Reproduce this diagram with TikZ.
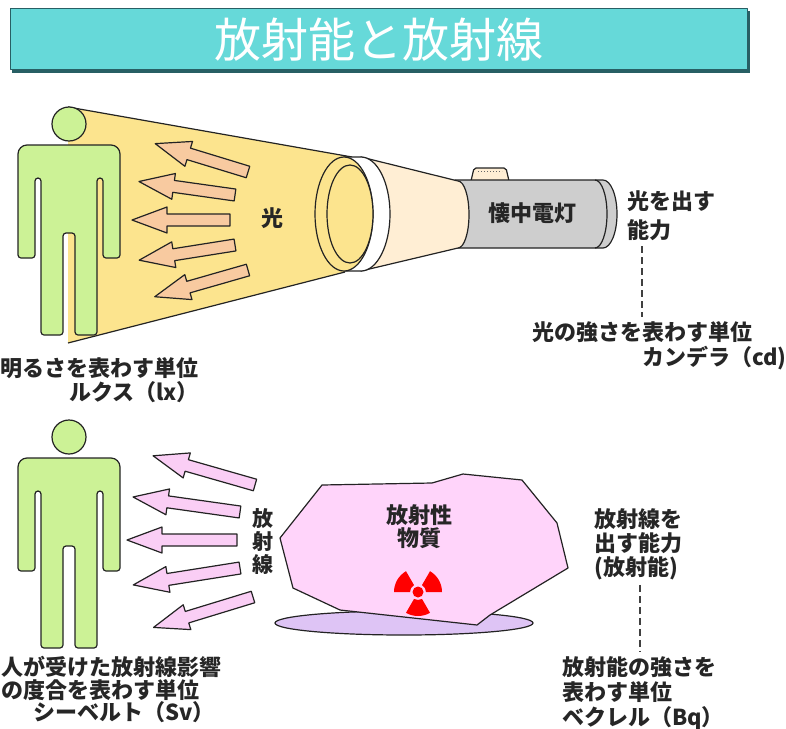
\documentclass[tikz,border=0pt]{standalone}
\usepackage{fontspec}
\newfontfamily\jpfont{Noto Sans CJK JP}

\definecolor{titlefill}{RGB}{102,217,217}
\definecolor{titleedge}{RGB}{40,95,100}
\definecolor{inkline}{RGB}{35,35,35}
\definecolor{skin}{RGB}{204,242,150}
\definecolor{conefill}{RGB}{252,228,142}
\definecolor{raypeach}{RGB}{248,202,160}
\definecolor{cream}{RGB}{255,238,212}
\definecolor{bodygray}{RGB}{206,206,206}
\definecolor{rockpink}{RGB}{255,212,250}
\definecolor{raypink}{RGB}{250,206,245}
\definecolor{lavender}{RGB}{222,196,245}

\begin{document}
\begin{tikzpicture}[x=1pt,y=-1pt,line join=round,
    outline/.style={draw=inkline,line width=1.2pt},
    jptext/.style={font=\jpfont\bfseries\fontsize{22}{25}\selectfont,inner sep=0pt,text=black!85},
    leader/.style={draw=black!75,line width=1.5pt,dash pattern=on 7pt off 4pt},
    pics/person/.style={code={
        \draw[outline,fill=skin] (0,0) circle[radius=17];
        \draw[outline,fill=skin,rounded corners=3pt] (-51,134) [rounded corners=9pt] -- (-51,21) -- (51,21)
            [rounded corners=3pt] -- (51,134) -- (34,134) -- (34,54) -- (28,54) -- (28,211) -- (6,211)
            -- (6,109) -- (-6,109) -- (-6,211) -- (-28,211) -- (-28,54) -- (-34,54) -- (-34,134) -- cycle;
    }},
    pics/ray/.style={code={
        \filldraw[outline,pic actions] (0,-6) -- (-#1+35,-6) -- (-#1+35,-13) -- (-#1,0)
            -- (-#1+35,13) -- (-#1+35,6) -- (0,6) -- cycle;
    }}]
    \useasboundingbox (0,0) rectangle (786,728);

    % --- Title bar ---
    \fill[titleedge] (12,11) rectangle (750,73);
    \draw[fill=titlefill,draw=titleedge] (10,8) rectangle (747,69);
    \node[font=\jpfont\fontsize{47}{47}\selectfont,text=white,inner sep=0pt] (title) at (379,40) {放射能と放射線};
    % ---

    % --- Light from the torch ---
    \fill[conefill] (68,107) -- (352,157) -- (345,272) -- (68,343) -- cycle;
    \draw[outline] (68,107) -- (352,157) (68,343) -- (345,272);
    \pic[fill=raypeach,rotate=-17] at (248,172) {ray=97};
    \pic[fill=raypeach,rotate=-8] at (235,195) {ray=97};
    \pic[fill=raypeach] at (230,220) {ray=98};
    \pic[fill=raypeach,rotate=9] at (235,245) {ray=97};
    \pic[fill=raypeach,rotate=16] at (248,270) {ray=97};
    \pic at (69,124) {person};
    \node[jptext] (light) at (272,218) {光};
    % ---

    % --- Torch: switch, body, reflector and lens ring ---
    \draw[outline,fill=cream,rounded corners=2pt] (471,181) -- (474,168) -- (506,168) -- (509,181);
    \draw[black!60,dotted,line width=1pt] (478,171) -- (502,171);
    \draw[outline,fill=bodygray] (455,180) -- (603,180) arc[start angle=-90,end angle=90,x radius=14,y radius=34] -- (455,248) -- cycle;
    \draw[outline] (595,180) arc[start angle=-90,end angle=90,x radius=12,y radius=34];
    \draw[outline,fill=cream] (361,157) -- (458,181) arc[start angle=-90,end angle=90,x radius=11,y radius=33.5] -- (361,271) -- cycle;
    \draw[outline,fill=white] (344,157) -- (361,157) arc[start angle=-90,end angle=90,x radius=29,y radius=57] -- (344,271) -- cycle;
    \draw[outline,fill=conefill] (344,214) ellipse[x radius=29,y radius=57];
    \draw[outline,fill=conefill] (350,214) ellipse[x radius=23,y radius=49];
    \node[jptext] (torch) at (532,213) {懐中電灯};
    % ---

    % --- Candela and lux labels ---
    \node[jptext,align=left,anchor=west,font=\jpfont\bfseries\fontsize{22}{29}\selectfont] (ability) at (627,216) {光を出す\\能力};
    \node[jptext] (cdunit) at (642,332) {光の強さを表わす単位};
    \node[jptext,anchor=west] (cdname) at (642,358) {カンデラ（cd)};
    \coordinate (cdtop) at ([shift={(15,5)}]ability.south west);
    \draw[leader,shorten >=4pt] (cdtop) -- (cdtop |- cdunit.north);
    \node[jptext,anchor=east] (luxunit) at (199,368) {明るさを表わす単位};
    \node[jptext,anchor=east] (luxname) at (199,392) {ルクス（lx）};
    % ---

    % --- Radiation from the source ---
    \pic[fill=raypink,rotate=-16] at (255,485) {ray=106};
    \pic[fill=raypink,rotate=-8] at (240,512) {ray=108};
    \pic[fill=raypink] at (237,540) {ray=110};
    \pic[fill=raypink,rotate=9] at (240,568) {ray=108};
    \pic[fill=raypink,rotate=17] at (253,597) {ray=104};
    \pic at (69,437) {person};
    \node[jptext,align=center,font=\jpfont\bfseries\fontsize{21}{23}\selectfont] (rays) at (263,541) {放\\射\\線};
    % ---

    % --- Radioactive lump and its shadow ---
    \draw[outline,fill=lavender] (404,623) ellipse[x radius=129,y radius=12];
    \draw[outline,fill=rockpink] (280,538) -- (322,485) -- (432,483) -- (463,474) -- (522,480) -- (557,523)
        -- (568,568) -- (490,615) -- (477,625) -- (340,610) -- (293,588) -- cycle;
    \node[jptext,align=center,font=\jpfont\bfseries\fontsize{22}{23}\selectfont] (substance) at (419,527) {放射性\\物質};
    \begin{scope}[shift={(418,592)}]
        \fill[red] (0,0) circle[radius=5.5];
        \foreach \a in {90,210,330}
            \fill[red] (\a-30:8) -- (\a-30:24) arc[start angle=\a-30,end angle=\a+30,radius=24]
                -- (\a+30:8) arc[start angle=\a+30,end angle=\a-30,radius=8] -- cycle;
    \end{scope}
    % ---

    % --- Becquerel and sievert labels ---
    \node[jptext,align=left,anchor=west,font=\jpfont\bfseries\fontsize{22}{24}\selectfont] (activity) at (594,544) {放射線を\\出す能力\\(放射能)};
    \node[jptext,align=left,anchor=west] (bqunit) at (562,693) {放射能の強さを\\表わす単位\\ベクレル（Bq）};
    \coordinate (bqtop) at ([shift={(46,5)}]activity.south west);
    \draw[leader,shorten >=4pt] (bqtop) -- (bqtop |- bqunit.north);
    \node[jptext,align=left,anchor=west,font=\jpfont\bfseries\fontsize{22}{23}\selectfont] (svunit) at (1,678) {人が受けた放射線影響\\の度合を表わす単位};
    \node[jptext,anchor=west] (svname) at (33,712) {シーベルト（Sv）};
    % ---
\end{tikzpicture}
\end{document}
